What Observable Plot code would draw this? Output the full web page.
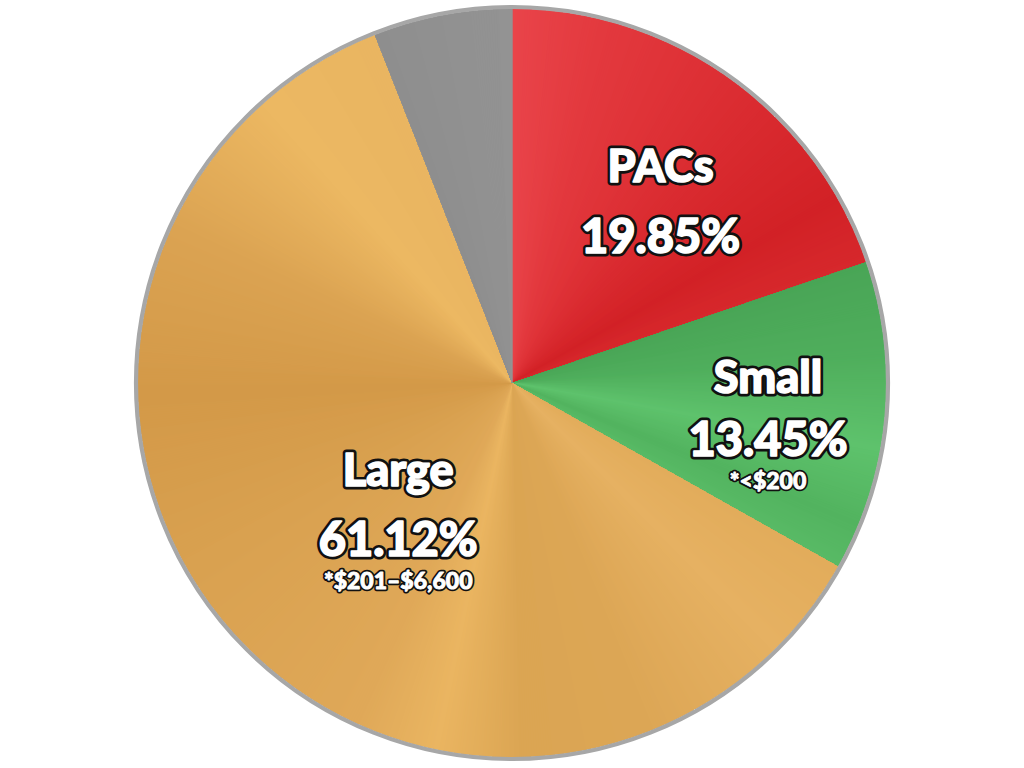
<!DOCTYPE html>
<html>
<head>
<meta charset="utf-8">
<script src="https://cdn.jsdelivr.net/npm/d3@7"></script>
<script src="https://cdn.jsdelivr.net/npm/@observablehq/plot@0.6"></script>
<style>
  html, body { margin: 0; padding: 0; background: #ffffff; }
  #chart { width: 1024px; height: 768px; }
</style>
</head>
<body>
<div id="chart"></div>
<script>
// ---- data ----
const categories = ["PACs", "Small", "Large", "Other"];
const shares = [19.85, 13.45, 61.12, 6.0];
const pctLabels = ["19.85%", "13.45%", "61.12%", ""];
const notes = ["", "*<$200", "*$201–$6,600", ""];

// ---- styles (sheen colour stops along each slice, fraction 0..1) ----
const baseColors = ["#dc2e33", "#52b460", "#dda654", "#909090"];
const sheenStops = [
  [[0, "#e9444a"], [0.2, "#e3393e"], [0.5, "#dc2e33"], [0.85, "#d22126"], [1, "#d6282c"]],
  [[0, "#49a556"], [0.3, "#4fae5c"], [0.6, "#5ec26c"], [0.85, "#52b35f"], [1, "#58ba65"]],
  [[0, "#e2ac5b"], [0.07, "#e6b162"], [0.18, "#dca655"], [0.27, "#dba553"], [0.33, "#eab561"],
   [0.39, "#dfa858"], [0.55, "#d9a150"], [0.68, "#d39948"], [0.8, "#dba352"], [0.91, "#ecb862"], [1, "#e9b561"]],
  [[0, "#8e8e8e"], [1, "#939393"]]
];
// layout: label anchor (angle in degrees clockwise from top, radius as fraction of pie radius)
const labelAngle = [45.4, 102.6, 216, 0];
const labelRadius = [0.556, 0.70, 0.52, 0];
const nameOffsetPx = [70, 62, 69, 0];   // name line sits this many px above the percentage
const noteOffsetPx = 41;                // note line sits this many px below the percentage

const R = 374; // pie radius in px
const pie = d3.pie().sort(null).value(d => d)(shares);

const labels = categories.map((c, i) => {
  const a = labelAngle[i] * Math.PI / 180;
  const x = labelRadius[i] * Math.sin(a), y = labelRadius[i] * Math.cos(a);
  return {name: c, pct: pctLabels[i], note: notes[i], x, y,
          nameY: y + nameOffsetPx[i] / R, noteY: y - noteOffsetPx / R};
}).filter(d => d.pct !== "");

function pieMark(index, scales, values, dimensions) {
  const cx = scales.x(0), cy = scales.y(0);
  const rpx = scales.x(1) - scales.x(0);
  const g = d3.create("svg:g").attr("transform", `translate(${cx},${cy})`);
  const arc = d3.arc().innerRadius(0).outerRadius(rpx);
  const step = 0.4 * Math.PI / 180;
  pie.forEach((p, i) => {
    const stops = sheenStops[i];
    const col = d3.scaleLinear().domain(stops.map(s => s[0])).range(stops.map(s => s[1]))
      .interpolate(d3.interpolateRgb);
    g.append("path").attr("d", arc(p)).attr("fill", baseColors[i]);
    const span = p.endAngle - p.startAngle;
    const n = Math.max(1, Math.ceil(span / step));
    const sub = g.append("g").attr("shape-rendering", "crispEdges");
    for (let k = 0; k < n; k++) {
      const a0 = p.startAngle + span * k / n;
      const a1 = p.startAngle + span * (k + 1) / n;
      const c = col((k + 0.5) / n);
      sub.append("path").attr("d", arc({startAngle: a0, endAngle: a1}))
        .attr("fill", c).attr("stroke", c).attr("stroke-width", 0.7);
    }
  });
  g.append("circle").attr("r", rpx + 2).attr("fill", "none")
    .attr("stroke", "#a7a7a7").attr("stroke-width", 4.2);
  return g.node();
}

const font = "Lato, 'Open Sans', sans-serif";
const under = {fill: "#111", stroke: "#111", strokeWidth: 7, strokeLinejoin: "round", fontFamily: font, fontWeight: 900};
const over = {fill: "white", stroke: "white", strokeWidth: 1.6, strokeLinejoin: "round", fontFamily: font, fontWeight: 900};
const noteUnder = {...under, strokeWidth: 4.5};
const noteOver = {...over, strokeWidth: 0.9};

const chart = Plot.plot({
  width: 1024, height: 768,
  margin: 0,
  x: {domain: [-512 / R, 512 / R], range: [0, 1024], axis: null},
  y: {domain: [-385 / R, 383 / R], range: [768, 0], axis: null},
  style: {background: "white"},
  marks: [
    pieMark,
    Plot.text(labels, {x: "x", y: "nameY", text: "name", fontSize: 45, ...under}),
    Plot.text(labels, {x: "x", y: "nameY", text: "name", fontSize: 45, ...over}),
    Plot.text(labels, {x: "x", y: "y", text: "pct", fontSize: 47, ...under}),
    Plot.text(labels, {x: "x", y: "y", text: "pct", fontSize: 47, ...over}),
    Plot.text(labels, {x: "x", y: "noteY", text: "note", fontSize: 23, ...noteUnder}),
    Plot.text(labels, {x: "x", y: "noteY", text: "note", fontSize: 23, ...noteOver})
  ]
});
document.getElementById("chart").append(chart);
</script>
</body>
</html>
